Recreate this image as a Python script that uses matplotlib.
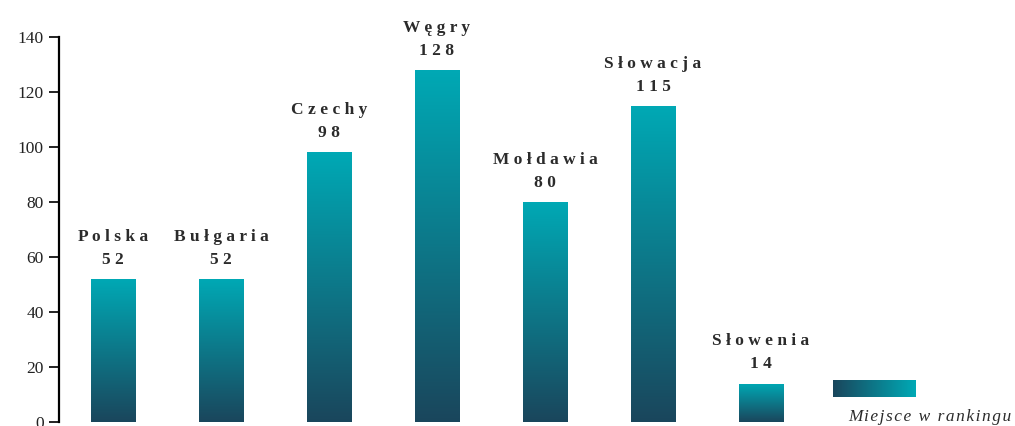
import numpy as np
import matplotlib.pyplot as plt
from matplotlib.colors import LinearSegmentedColormap

countries = ["Polska", "Bułgaria", "Czechy", "Węgry", "Mołdawia", "Słowacja", "Słowenia"]
ranks = [52, 52, 98, 128, 80, 115, 14]
yticks = [0, 20, 40, 60, 80, 100, 120, 140]
legend_label = "Miejsce w rankingu"

dark = "#1a465c"
teal = "#00a9b5"
cmap = LinearSegmentedColormap.from_list("grad", [dark, teal])


def spaced(s, sep=" "):
    # fake letter spacing
    return sep.join(s)


plt.rcParams['font.family'] = ['Liberation Serif', 'DejaVu Serif']

fig = plt.figure(figsize=(10.15, 4.26), dpi=100)
ax = fig.add_axes([59 / 1015, 4 / 426, 864 / 1015, 385 / 426])

x = np.arange(len(countries))
bars = ax.bar(x, ranks, width=45 / 108, color="none", edgecolor="none")

grad = np.linspace(0, 1, 256).reshape(-1, 1)
for b, name, v in zip(bars, countries, ranks):
    x0, y0 = b.get_x(), b.get_y()
    im = ax.imshow(grad, cmap=cmap, origin="lower", aspect="auto",
                   extent=[x0, x0 + b.get_width(), y0, y0 + b.get_height()])
    im.set_clip_path(b)
    cx = x0 + b.get_width() / 2
    ax.annotate(spaced(str(v)), (cx, v), xytext=(0, 8), textcoords="offset points",
                ha="center", va="bottom", fontsize=12.5, fontweight="bold", color="#2b2b2b")
    ax.annotate(spaced(name), (cx, v), xytext=(0, 24.5), textcoords="offset points",
                ha="center", va="bottom", fontsize=12.5, fontweight="bold", color="#2b2b2b")

ax.set_xlim(-0.5, 7.5)
ax.set_ylim(0, 140)
ax.set_yticks(yticks)
ax.set_xticks([])
for s in ["top", "right", "bottom"]:
    ax.spines[s].set_visible(False)
ax.spines["left"].set_linewidth(1.6)
ax.tick_params(axis="y", length=7, width=1.4, labelsize=12.5, colors="#222222", pad=4)

# legend: horizontal gradient swatch + italic label
lax = fig.add_axes([833 / 1015, (426 - 397) / 426, 83 / 1015, 17 / 426])
lax.imshow(np.linspace(0, 1, 256).reshape(1, -1), cmap=cmap, aspect="auto")
lax.axis("off")
fig.text(1011 / 1015, (426 - 421) / 426, spaced(legend_label, "\u200a"),
         fontsize=12.5, style="italic", color="#2b2b2b", ha="right", va="baseline")

fig.savefig("out.png", dpi=100)
